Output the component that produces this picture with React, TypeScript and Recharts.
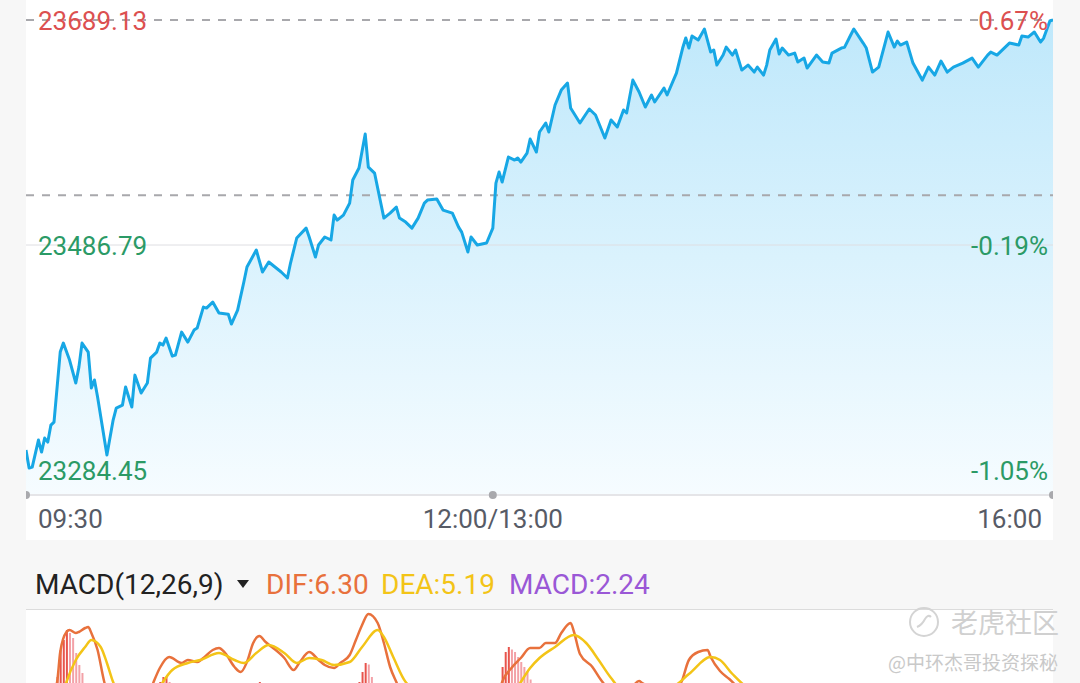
import React from 'react';
import {
  ComposedChart, Area, Line, Bar, Cell, XAxis, YAxis, ReferenceLine, ReferenceDot,
} from 'recharts';

// intraday minutes from 09:30 (lunch break removed: 150 = 12:00/13:00, 330 = 16:00)
const MINUTES = [
  0, 1, 2, 4, 5, 6, 7, 8, 9, 11, 12, 14, 16, 17, 18, 20, 21, 22, 23, 26,
  28, 29, 31, 32, 34, 35, 37, 39, 40, 42, 43, 44, 45, 47, 48, 50, 52, 54, 55, 57,
  58, 60, 62, 65, 66, 68, 70, 71, 74, 76, 78, 80, 82, 84, 85, 87, 90, 91, 93, 94,
  96, 98, 99, 100, 102, 104, 105, 107, 109, 110, 112, 115, 117, 119, 120, 122, 124, 126, 128, 129,
  132, 134, 137, 139, 140, 142, 143, 145, 148, 150, 151, 152, 153, 155, 157, 158, 159, 161, 162, 164,
  165, 167, 168, 170, 172, 174, 175, 178, 181, 183, 186, 188, 190, 192, 193, 195, 197, 199, 201, 202,
  205, 206, 209, 211, 212, 213, 214, 216, 218, 220, 221, 222, 224, 225, 227, 228, 230, 232, 234, 235,
  237, 238, 239, 241, 242, 243, 245, 247, 248, 250, 251, 254, 256, 258, 259, 262, 263, 265, 266, 269,
  270, 272, 274, 277, 279, 280, 281, 283, 285, 288, 290, 292, 294, 296, 298, 301, 304, 306, 309, 310,
  312, 314, 316, 319, 320, 322, 324, 326, 327, 329, 330,
];
const PRICES = [
  23302.4, 23286.2, 23287.1, 23311.4, 23300.6, 23313.2, 23309.6, 23324.9, 23327.6, 23390.5,
  23398.6, 23383.3, 23362.7, 23377.0, 23398.6, 23390.5, 23358.2, 23365.4, 23350.1, 23297.9,
  23329.4, 23340.2, 23342.9, 23359.1, 23341.1, 23369.8, 23353.7, 23362.7, 23385.1, 23390.5,
  23398.6, 23396.8, 23403.1, 23386.9, 23387.8, 23408.5, 23399.5, 23410.3, 23412.1, 23431.0,
  23430.1, 23435.5, 23425.6, 23424.5, 23415.7, 23428.3, 23453.5, 23467.0, 23482.3, 23462.5,
  23471.5, 23467.0, 23462.5, 23457.1, 23470.6, 23493.1, 23502.0, 23494.0, 23476.0, 23486.8,
  23494.0, 23491.3, 23513.7, 23509.2, 23513.7, 23524.5, 23545.2, 23556.0, 23586.6, 23556.9,
  23551.5, 23511.0, 23515.5, 23520.9, 23511.0, 23507.4, 23502.0, 23511.0, 23524.5, 23527.2,
  23528.1, 23518.2, 23515.5, 23502.9, 23498.4, 23480.5, 23494.0, 23486.8, 23488.6, 23502.0,
  23542.5, 23552.4, 23543.4, 23565.9, 23563.2, 23565.0, 23561.4, 23569.5, 23582.1, 23570.4,
  23588.4, 23596.5, 23588.4, 23612.7, 23626.1, 23632.4, 23610.0, 23596.5, 23609.1, 23603.7,
  23583.0, 23599.2, 23592.9, 23608.2, 23605.5, 23635.1, 23624.4, 23610.9, 23621.7, 23615.4,
  23627.9, 23621.7, 23641.4, 23663.9, 23672.9, 23663.9, 23674.7, 23671.1, 23681.0, 23660.3,
  23662.1, 23648.6, 23657.6, 23664.8, 23657.6, 23662.1, 23644.1, 23648.6, 23642.3, 23646.8,
  23639.6, 23648.6, 23662.1, 23672.0, 23658.5, 23663.9, 23657.6, 23659.4, 23651.3, 23654.9,
  23645.9, 23657.6, 23651.3, 23650.5, 23659.4, 23663.9, 23664.5, 23675.6, 23681.0, 23668.4,
  23663.9, 23642.3, 23646.8, 23678.3, 23664.8, 23670.2, 23666.6, 23669.3, 23650.4, 23635.1,
  23646.8, 23639.6, 23652.2, 23642.3, 23646.8, 23650.4, 23654.9, 23646.8, 23657.6, 23660.3,
  23657.6, 23663.0, 23668.4, 23666.6, 23674.7, 23673.8, 23678.3, 23669.3, 23672.9, 23688.2,
  23689.1,
];

const PREV_CLOSE = 23531.5;
const DAY_HIGH = 23689.13;
const DAY_MID = 23486.79;
const DAY_LOW = 23284.45;
const Y_FLOOR = 23262.0;
const PRICE_TICKS = [DAY_LOW, DAY_MID, DAY_HIGH];
const TIME_TICKS = [0, 150, 330];
const TIME_LABELS = ['09:30', '12:00/13:00', '16:00'];

// MACD(12,26,9)
const DIF_MIN = [
  0, 4, 8, 10, 11, 13, 14, 16, 17, 19, 20, 21, 23, 25, 29, 33, 38, 41, 43, 46,
  50, 52, 55, 57, 60, 62, 64, 67, 69, 71, 73, 75, 77, 79, 83, 86, 88, 91, 94, 96,
  99, 101, 104, 106, 108, 110, 113, 115, 117, 119, 123, 130, 136, 143, 149, 151, 153, 156, 159, 162,
  165, 167, 170, 172, 175, 176, 178, 182, 185, 187, 193, 197, 198, 204, 210, 213, 216, 219, 220, 223,
  226, 229, 236, 249, 265, 274, 287, 300, 313, 323, 330,
];
const DIF_VAL = [
  0, -4, 5, 12, 24, 32, 32.8, 31.6, 32, 33.6, 34, 31.6, 24.8, 12.8, -2, -4, 2, 12, 17.6, 22,
  19.6, 20.8, 20, 21.6, 24.8, 25.6, 23.6, 18, 16, 20, 27.6, 30.4, 28, 26, 21.6, 16.8, 20, 24, 20.8, 18.8,
  17.6, 19.6, 22.8, 28.8, 34.8, 39.2, 35.6, 27.6, 18, 12, 2, 4, 0, -6, -3, 2, 12, 17.6, 21.6, 25.6,
  25.6, 27.6, 27.6, 31.6, 35.6, 32.4, 23.2, 18, 12.4, 9.6, 8, 12.4, 11.6, 9, 10.8, 20.8, 24, 24.8, 22, 16.4,
  13.2, 9.6, 4, 6, 9, 2, -3, 3, 5, 6, 6.3,
];
const DEA_MIN = [
  0, 8, 11, 13, 16, 19, 21, 24, 26, 28, 33, 40, 44, 47, 52, 56, 62, 67, 70, 74,
  78, 83, 87, 91, 95, 99, 104, 108, 113, 115, 118, 122, 130, 140, 149, 156, 159, 162, 165, 170,
  176, 180, 184, 188, 191, 197, 208, 213, 220, 223, 227, 232, 242, 262, 281, 300, 330,
];
const DEA_VAL = [
  0, -1, 3, 12, 20.8, 26, 28.8, 26, 19.6, 12, 4, 3, 12, 16.8, 19.6, 20.8, 23.6, 20.8, 19.6, 23.6,
  26.8, 23.6, 19.6, 21.6, 20.8, 18.8, 20, 26, 32.8, 30, 22, 12, 6, 2, 0, 6, 12, 17.6, 21.6, 26,
  30.8, 27.6, 20.8, 13.6, 9.6, 9, 10.4, 15.2, 22, 20.8, 15.2, 9.6, 6, 7, 4, 3, 5.19,
];
const HIST_MIN = [
  10, 11, 12, 13, 14, 15, 16, 17, 18, 42, 43, 44, 45, 46, 47, 74, 75,
  107, 108, 109, 110, 111, 152, 153, 154, 155, 156, 157, 158, 159, 160, 161, 162,
];
const HIST_VAL = [
  14, 24.8, 28.8, 32.8, 31.6, 29.6, 23.6, 18.8, 15.6, 8, 12, 14, 14, 12, 9, 10, 12,
  12, 16, 19.6, 19, 14, 10, 18, 24, 26, 25, 24, 22, 20, 18, 16, 13,
];

const RED = '#dc5050';
const GREEN = '#2b9a66';
const LINE_BLUE = '#17a7e5';
const DIF_COLOR = '#e8713c';
const DEA_COLOR = '#f3c417';
const MACD_COLOR = '#9a58d6';

const priceData = MINUTES.map((m, i) => ({ m, p: PRICES[i] }));

const macdData = (() => {
  const rows = new Map<number, any>();
  const put = (m: number, key: string, v: number) => {
    const r = rows.get(m) ?? { m };
    r[key] = v;
    rows.set(m, r);
  };
  DIF_MIN.forEach((m, i) => put(m, 'dif', DIF_VAL[i]));
  DEA_MIN.forEach((m, i) => put(m, 'dea', DEA_VAL[i]));
  HIST_MIN.forEach((m, i) => put(m, 'macd', HIST_VAL[i]));
  const out = [...rows.values()].sort((a, b) => a.m - b.m);
  let prev = 0;
  out.forEach((r) => {
    if (r.macd != null) {
      r.barColor = r.macd >= prev ? '#e8544c' : '#f3a1a7';
      prev = r.macd;
    }
  });
  return out;
})();

const pct = (v: number) => `${(((v / PREV_CLOSE) - 1) * 100).toFixed(2)}%`;

// price on the left, change vs previous close on the right, same row
const PriceTick = (props: any) => {
  const v = props.payload.value;
  const fill = v >= PREV_CLOSE ? RED : GREEN;
  return (
    <g>
      <text x={12} y={props.y} dy={10} fill={fill} fontSize={26} fontFamily="Roboto">
        {v.toFixed(2)}
      </text>
      <text x={1022} y={props.y} dy={10} textAnchor="end" fill={fill} fontSize={26} fontFamily="Roboto">
        {pct(v)}
      </text>
    </g>
  );
};

const TimeTick = (props: any) => {
  const i = props.index;
  const anchor = i === 0 ? 'start' : i === TIME_TICKS.length - 1 ? 'end' : 'middle';
  const dx = i === 0 ? 12 : i === TIME_TICKS.length - 1 ? -11 : 0;
  return (
    <text x={props.x + dx} y={528} textAnchor={anchor} fill="#575b66" fontSize={26} fontFamily="Roboto">
      {TIME_LABELS[i]}
    </text>
  );
};

const headerText: React.CSSProperties = {
  position: 'absolute', top: 571, fontSize: 28, lineHeight: '28px', whiteSpace: 'nowrap',
};

export default function App() {
  return (
    <div style={{
      position: 'absolute', left: 0, top: 0, width: 1080, height: 683, overflow: 'hidden',
      background: '#f7f7f7', fontFamily: 'Roboto, sans-serif',
    }}>
      <div style={{ position: 'absolute', left: 26, top: 0, width: 1027, height: 540, background: '#fff' }}>
        <ComposedChart width={1027} height={540} data={priceData} margin={{ top: 20, right: 0, bottom: 0, left: 0 }}>
          <defs>
            <linearGradient id="priceFill" x1="0" y1="0" x2="0" y2="1">
              <stop offset="0%" stopColor="#bfe8fb" />
              <stop offset="50%" stopColor="#daf2fd" />
              <stop offset="100%" stopColor="#f6fcff" />
            </linearGradient>
          </defs>
          <XAxis
            type="number" dataKey="m" domain={[0, 330]} ticks={TIME_TICKS} interval={0}
            height={45} axisLine={{ stroke: '#e5e5e8', strokeWidth: 2 }} tickLine={false}
            tick={(p: any) => <TimeTick {...p} />}
          />
          <YAxis
            domain={[Y_FLOOR, DAY_HIGH]} ticks={PRICE_TICKS} interval={0}
            mirror width={2} axisLine={false} tickLine={false} tick={(p: any) => <PriceTick {...p} />}
          />
          <Area
            type="linear" dataKey="p" stroke="none" fill="url(#priceFill)" fillOpacity={1}
            dot={false} activeDot={false} isAnimationActive={false}
          />
          <ReferenceLine y={DAY_MID} stroke="#dedee2" strokeWidth={1} />
          <ReferenceLine y={DAY_HIGH} stroke="#a8a8ac" strokeWidth={2} strokeDasharray="8 8" />
          <ReferenceLine y={PREV_CLOSE} stroke="#a8a8ac" strokeWidth={2} strokeDasharray="8 8" />
          <Line
            type="linear" dataKey="p" stroke={LINE_BLUE} strokeWidth={3}
            strokeLinejoin="round" dot={false} activeDot={false} isAnimationActive={false}
          />
          {TIME_TICKS.map((t) => (
            <ReferenceDot key={t} x={t} y={Y_FLOOR} r={4} fill="#a9a9ad" stroke="none" />
          ))}
        </ComposedChart>
      </div>

      <div style={{ ...headerText, left: 35, color: '#222' }}>MACD(12,26,9)</div>
      <div style={{
        position: 'absolute', left: 237, top: 580, width: 0, height: 0,
        borderLeft: '6px solid transparent', borderRight: '6px solid transparent', borderTop: '8px solid #222',
      }} />
      <div style={{ ...headerText, left: 266, color: DIF_COLOR }}>DIF:6.30</div>
      <div style={{ ...headerText, left: 381, color: DEA_COLOR }}>DEA:5.19</div>
      <div style={{ ...headerText, left: 509, color: MACD_COLOR }}>MACD:2.24</div>

      <div style={{ position: 'absolute', left: 26, top: 609, width: 1027, height: 1, background: '#dcdcdc' }} />
      <div style={{ position: 'absolute', left: 26, top: 610, width: 1027, height: 73, background: '#fff', overflow: 'hidden' }}>
        <div style={{ position: 'absolute', left: 0, top: -1 }}>
          <ComposedChart width={1027} height={210} data={macdData} margin={{ top: 3, right: 0, bottom: 7, left: 0 }}>
            <XAxis type="number" dataKey="m" domain={[0, 330]} hide />
            <YAxis domain={[-40, 40]} hide allowDataOverflow />
            <Bar dataKey="macd" barSize={2} isAnimationActive={false}>
              {macdData.map((r, i) => <Cell key={i} fill={r.barColor || 'none'} />)}
            </Bar>
            <Line type="monotone" dataKey="dif" stroke={DIF_COLOR} strokeWidth={2.5} dot={false} activeDot={false} connectNulls isAnimationActive={false} />
            <Line type="monotone" dataKey="dea" stroke={DEA_COLOR} strokeWidth={2.5} dot={false} activeDot={false} connectNulls isAnimationActive={false} />
          </ComposedChart>
        </div>
      </div>

      <svg style={{ position: 'absolute', left: 907, top: 605 }} width={34} height={34}>
        <circle cx={17} cy={17} r={14} fill="none" stroke="#d4d4d4" strokeWidth={2} />
        <path d="M10 22 q5 -2 8 -8 q3 -5 6 -2" fill="none" stroke="#d4d4d4" strokeWidth={2} />
      </svg>
      <div style={{
        position: 'absolute', left: 951, top: 606, fontSize: 27, lineHeight: '32px', color: '#d0d0d0',
        fontFamily: '"Noto Sans CJK SC", sans-serif', whiteSpace: 'nowrap',
      }}>老虎社区</div>
      <div style={{
        position: 'absolute', right: 22, top: 650, fontSize: 19, lineHeight: '24px', color: '#c9c9c9',
        fontFamily: '"Noto Sans CJK SC", sans-serif', whiteSpace: 'nowrap',
      }}>@中环杰哥投资探秘</div>
    </div>
  );
}
